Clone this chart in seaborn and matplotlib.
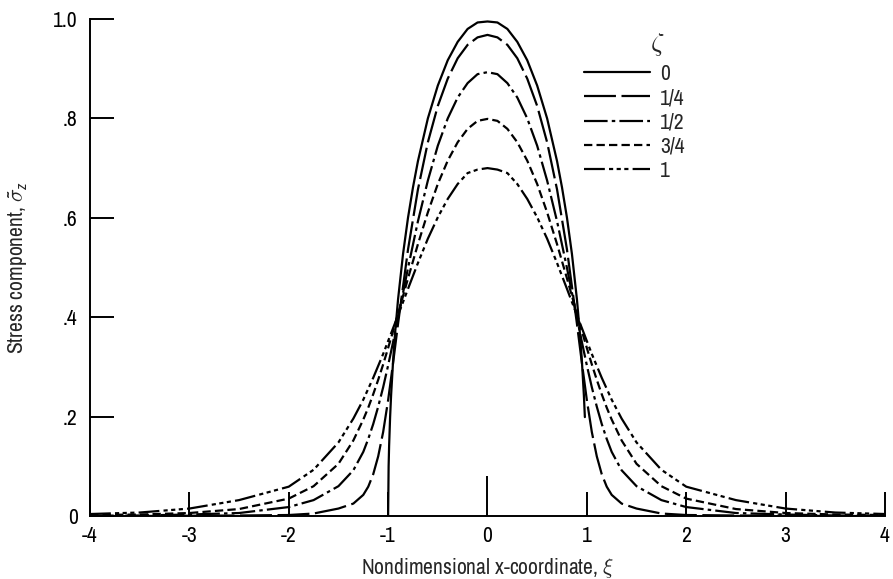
import matplotlib
matplotlib.use("Agg")
import matplotlib.pyplot as plt
from matplotlib import font_manager as fm
import pandas as pd
import seaborn as sns

# ---------------- data ----------------
zeta_labels = ["0", "1/4", "1/2", "3/4", "1"]

x_surface = [-1.0, -0.995, -0.99, -0.98, -0.97, -0.95, -0.93, -0.9, -0.85, -0.8, -0.75, -0.7,
             -0.6, -0.5, -0.4, -0.3, -0.2, -0.1, 0.0, 0.1, 0.2, 0.3, 0.4, 0.5, 0.6, 0.7, 0.75,
             0.8, 0.85, 0.9, 0.93, 0.95, 0.97, 0.98]
stress_z0 = [0.0, 0.10, 0.141, 0.199, 0.243, 0.312, 0.368, 0.436, 0.527, 0.60, 0.661, 0.714,
             0.80, 0.866, 0.917, 0.954, 0.98, 0.993, 0.995, 0.993, 0.98, 0.954, 0.917, 0.866,
             0.80, 0.714, 0.661, 0.60, 0.527, 0.436, 0.368, 0.312, 0.243, 0.199]

x_depth = [-4, -3.5, -3, -2.5, -2, -1.75, -1.5, -1.35, -1.25, -1.2, -1.15, -1.1, -1.05, -1.0,
           -0.95, -0.9, -0.8, -0.7, -0.6, -0.5, -0.4, -0.3, -0.2, -0.1, 0.0,
           0.1, 0.2, 0.3, 0.4, 0.5, 0.6, 0.7, 0.8, 0.9, 0.95, 1.0, 1.05, 1.1, 1.15, 1.2,
           1.25, 1.35, 1.5, 1.75, 2, 2.5, 3, 3.5, 4]
stress_z14 = [0.0, 0.0, 0.0005, 0.001, 0.002, 0.005, 0.015, 0.025, 0.0425, 0.059, 0.084, 0.12,
              0.169, 0.233, 0.308, 0.387, 0.536, 0.657, 0.752, 0.825, 0.88, 0.921, 0.948, 0.963,
              0.968,
              0.963, 0.948, 0.921, 0.88, 0.825, 0.752, 0.657, 0.536, 0.387, 0.308, 0.233, 0.169,
              0.12, 0.084, 0.059, 0.0425, 0.025, 0.015, 0.005, 0.002, 0.001, 0.0005, 0.0, 0.0]
stress_z12 = [0.0005, 0.001, 0.003, 0.006, 0.018, 0.032, 0.06, 0.092, 0.129, 0.155, 0.185, 0.22,
              0.259, 0.303, 0.35, 0.399, 0.499, 0.593, 0.675, 0.745, 0.8, 0.842, 0.871, 0.889,
              0.893,
              0.889, 0.871, 0.842, 0.8, 0.745, 0.675, 0.593, 0.499, 0.399, 0.35, 0.303, 0.259,
              0.22, 0.185, 0.155, 0.129, 0.092, 0.06, 0.032, 0.018, 0.006, 0.003, 0.001, 0.0005]
stress_z34 = [0.002, 0.003, 0.006, 0.014, 0.035, 0.06, 0.105, 0.152, 0.194, 0.218, 0.245, 0.274,
              0.305, 0.338, 0.372, 0.407, 0.478, 0.547, 0.611, 0.668, 0.715, 0.752, 0.779, 0.795,
              0.799,
              0.795, 0.779, 0.752, 0.715, 0.668, 0.611, 0.547, 0.478, 0.407, 0.372, 0.338, 0.305,
              0.274, 0.245, 0.218, 0.194, 0.152, 0.105, 0.06, 0.035, 0.014, 0.006, 0.003, 0.002]
stress_z1 = [0.004, 0.007, 0.015, 0.032, 0.059, 0.093, 0.148, 0.196, 0.234, 0.256, 0.278, 0.302,
             0.326, 0.352, 0.378, 0.404, 0.457, 0.509, 0.558, 0.601, 0.638, 0.668, 0.69, 0.697,
             0.70,
             0.697, 0.69, 0.668, 0.638, 0.601, 0.558, 0.509, 0.457, 0.404, 0.378, 0.352, 0.326,
             0.302, 0.278, 0.256, 0.234, 0.196, 0.148, 0.093, 0.059, 0.032, 0.015, 0.007, 0.004]

x_ticks = [-4, -3, -2, -1, 0, 1, 2, 3, 4]
x_tick_labels = ["-4", "-3", "-2", "-1", "0", "1", "2", "3", "4"]
y_ticks = [0, 0.2, 0.4, 0.6, 0.8, 1.0]
y_tick_labels = ["0", ".2", ".4", ".6", ".8", "1.0"]

# ---------------- style ----------------
sns.set_theme(style="ticks")

# pick a narrow sans font if one exists, otherwise Liberation Sans
narrow_name, narrow_stretch = None, "normal"
for f in fm.fontManager.ttflist:
    if ("Narrow" in f.name or "Condensed" in f.name) and f.style == "normal":
        narrow_name = f.name
        break
if narrow_name is None:
    for f in fm.fontManager.ttflist:
        if f.name == "DejaVu Sans" and "condensed" in str(f.stretch) and f.style == "normal":
            narrow_name, narrow_stretch = "DejaVu Sans", "condensed"
            break
if narrow_name is None:
    narrow_name = "Liberation Sans"

FS = 15.5
plt.rcParams["font.family"] = [narrow_name, "DejaVu Sans"]
plt.rcParams["font.stretch"] = narrow_stretch
plt.rcParams["mathtext.fontset"] = "custom"
plt.rcParams["mathtext.rm"] = narrow_name + (":" + narrow_stretch if narrow_stretch != "normal" else "")
plt.rcParams["mathtext.it"] = narrow_name + ":italic"
plt.rcParams["axes.unicode_minus"] = False
plt.rcParams["lines.scale_dashes"] = False
plt.rcParams["axes.edgecolor"] = "black"

dash_map = {
    "0": "",
    "1/4": (23, 4),
    "1/2": (17, 3, 2.5, 3),
    "3/4": (6, 3),
    "1": (15, 3, 3, 2.5, 3, 2.5, 3, 3),
}

frames = [pd.DataFrame({"x": x_surface, "s": stress_z0, "zeta": "0"}),
          pd.DataFrame({"x": x_depth, "s": stress_z14, "zeta": "1/4"}),
          pd.DataFrame({"x": x_depth, "s": stress_z12, "zeta": "1/2"}),
          pd.DataFrame({"x": x_depth, "s": stress_z34, "zeta": "3/4"}),
          pd.DataFrame({"x": x_depth, "s": stress_z1, "zeta": "1"})]
df = pd.concat(frames, ignore_index=True)

fig, ax = plt.subplots(figsize=(8.93, 5.79), dpi=100)
fig.subplots_adjust(left=0.1008, right=0.991, bottom=0.1088, top=0.9672)

sns.lineplot(data=df, x="x", y="s", style="zeta", style_order=zeta_labels,
             dashes=dash_map, color="black", linewidth=1.6, estimator=None,
             sort=True, ax=ax, legend="full")

ax.set_xlim(-4, 4)
ax.set_ylim(0, 1.0)
ax.set_xticks(x_ticks)
ax.set_xticklabels(x_tick_labels)
ax.set_yticks(y_ticks)
ax.set_yticklabels(y_tick_labels)
sns.despine(ax=ax)
for side in ("left", "bottom"):
    ax.spines[side].set_linewidth(1.4)
ax.tick_params(axis="both", direction="in", length=17, width=1.4, labelsize=FS,
               colors="black")
ax.tick_params(axis="x", pad=7)
ax.tick_params(axis="y", pad=9)
ax.xaxis.get_major_ticks()[4].tick1line.set_markersize(29)

ax.set_xlabel("Nondimensional x-coordinate, $\\xi$", fontsize=FS)
ax.set_ylabel("Stress component, $\\tilde{\\sigma}_z$", fontsize=FS)
ax.xaxis.set_label_coords(0.5, -0.08)
ax.yaxis.set_label_coords(-0.076, 0.5)

old = ax.get_legend()
handles = list(old.legend_handles)
labels = [t.get_text() for t in old.get_texts()]
for h in handles:
    h.set_linewidth(1.6)
    h.set_color("black")
ax.legend(handles, labels, loc="upper left", bbox_to_anchor=(0.621, 0.91),
          frameon=False, handlelength=3.07, handletextpad=0.47, labelspacing=0.2,
          borderpad=0, borderaxespad=0, fontsize=FS)
ax.text(0.713, 0.948, "$\\zeta$", transform=ax.transAxes, fontsize=19,
        ha="center", va="center")

fig.savefig("out.png", dpi=100)
